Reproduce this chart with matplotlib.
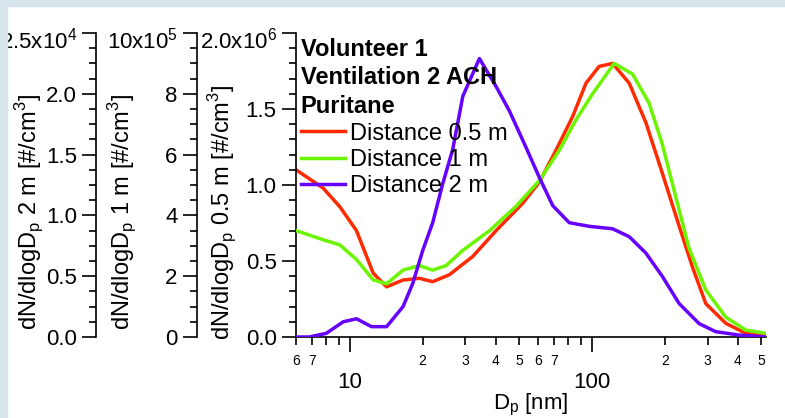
import numpy as np
import matplotlib
matplotlib.use("Agg")
import matplotlib.pyplot as plt
from matplotlib.patches import Rectangle
from matplotlib.transforms import ScaledTranslation
from matplotlib.ticker import MultipleLocator, LogLocator, FuncFormatter

plt.rcParams['font.family'] = ['Liberation Sans', 'DejaVu Sans']
plt.rcParams['mathtext.fontset'] = 'custom'
plt.rcParams['mathtext.rm'] = 'Liberation Sans'

# particle diameter [nm] and number size distributions dN/dlogDp [#/cm3]
d_05 = [6, 7.76, 9.1, 10.66, 12.5, 14.2, 16.6, 19.4, 22.0, 25.8, 32.2, 40.2, 51.8, 60.7,
        71.1, 83.2, 94.5, 107, 121.6, 142.5, 167, 195, 229, 260, 295, 357, 431, 523]
n_05 = [1.10, 0.98, 0.857, 0.70, 0.42, 0.33, 0.375, 0.386, 0.364, 0.41, 0.53, 0.70, 0.88, 1.02,
        1.23, 1.45, 1.67, 1.78, 1.80, 1.67, 1.41, 1.08, 0.73, 0.46, 0.22, 0.09, 0.024, 0.005]  # x1e6

d_1 = [6, 7.76, 9.1, 10.66, 12.5, 14.2, 16.6, 19.4, 22.0, 25.0, 29.3, 37.8, 48.6, 60.7,
       73.4, 86, 100.6, 123.5, 147, 172, 195, 222, 251, 295, 357, 431, 523]
n_1 = [3.5, 3.2, 3.03, 2.55, 1.88, 1.75, 2.2, 2.35, 2.2, 2.35, 2.85, 3.5, 4.3, 5.15,
       6.15, 7.15, 8.0, 9.0, 8.65, 7.7, 6.35, 4.6, 2.95, 1.55, 0.65, 0.23, 0.12]  # x1e5

d_2 = [6, 6.8, 8.0, 9.4, 10.66, 12.3, 14.2, 16.6, 18.2, 20.0, 22.0, 24.2, 26.6, 29.3, 34.3,
       40.2, 45.6, 53.4, 60.7, 68.9, 80.6, 97.6, 121.6, 142.5, 167, 195, 229, 277, 324, 405, 523]
n_2 = [0, 0, 0.03, 0.125, 0.15, 0.085, 0.085, 0.25, 0.44, 0.71, 0.94, 1.26, 1.54, 1.98, 2.29,
       2.06, 1.86, 1.56, 1.31, 1.08, 0.94, 0.91, 0.89, 0.825, 0.69, 0.50, 0.275, 0.11, 0.044, 0.016, 0.0]  # x1e4

fig = plt.figure(figsize=(7.85, 4.18), dpi=100)
fig.patch.set_facecolor('white')
# light frame on the left and top
fig.add_artist(Rectangle((0, 0), 7 / 785, 1, transform=fig.transFigure, color='#d6e5eb', zorder=10))
fig.add_artist(Rectangle((0, 1 - 6 / 418), 1, 6 / 418, transform=fig.transFigure, color='#d6e5eb', zorder=10))

ax = fig.add_axes([296 / 785, 81 / 418, 470 / 785, 304 / 418])
ax1 = ax.twinx()
ax2 = ax.twinx()

lw = 2.5
l05, = ax.plot(np.array(d_05), np.array(n_05) * 1e6, color='#ff2a00', lw=lw, label='Distance 0.5 m')
l1, = ax1.plot(np.array(d_1), np.array(n_1) * 1e5, color='#6cf500', lw=lw, label='Distance 1 m')
l2, = ax2.plot(np.array(d_2), np.array(n_2) * 1e4, color='#6600ff', lw=lw, label='Distance 2 m')

ax.set_xscale('log')
ax.set_xlim(6, 523)
ax.set_ylim(0, 2e6)
ax1.set_ylim(0, 1e6)
ax2.set_ylim(0, 2.5e4)

ax.spines['top'].set_visible(False)
ax.spines['right'].set_visible(False)
for a, off in [(ax1, -0.2106), (ax2, -0.4245)]:
    a.yaxis.tick_left()
    a.yaxis.set_label_position('left')
    a.spines['left'].set_visible(True)
    a.spines['left'].set_position(('axes', off))
    for s in ['right', 'top', 'bottom']:
        a.spines[s].set_visible(False)
for a in [ax, ax1, ax2]:
    a.spines['left'].set_linewidth(1.2)
    a.tick_params(axis='y', which='major', direction='out', length=10, width=1.2, pad=4, labelsize=16)
    a.tick_params(axis='y', which='minor', direction='out', length=5, width=1.2)
ax.spines['bottom'].set_linewidth(1.2)

# y ticks
ax.set_yticks([0, 0.5e6, 1e6, 1.5e6, 2e6], ['0.0', '0.5', '1.0', '1.5', '2.0x10$^\\mathregular{6}$'])
ax.yaxis.set_minor_locator(MultipleLocator(0.1e6))
ax1.set_yticks([0, 2e5, 4e5, 6e5, 8e5, 10e5], ['0', '2', '4', '6', '8', '10x10$^\\mathregular{5}$'])
ax1.yaxis.set_minor_locator(MultipleLocator(0.5e5))
ax2.set_yticks([0, 0.5e4, 1e4, 1.5e4, 2e4, 2.5e4], ['0.0', '0.5', '1.0', '1.5', '2.0', '2.5x10$^\\mathregular{4}$'])
ax2.yaxis.set_minor_locator(MultipleLocator(0.125e4))
# top labels sit a bit below their tick
for a in [ax, ax1, ax2]:
    top = a.get_yticklabels()[-1]
    top.set_transform(top.get_transform() + ScaledTranslation(0, -0.05, fig.dpi_scale_trans))

# x ticks
def minor_label(x, pos):
    d = int(round(x / 10 ** np.floor(np.log10(x) + 1e-9)))
    return str(d) if d in (2, 3, 4, 5, 6, 7) else ''

ax.xaxis.set_major_locator(LogLocator(base=10, subs=(1.0,)))
ax.xaxis.set_major_formatter(FuncFormatter(lambda x, p: '%d' % round(x)))
ax.xaxis.set_minor_locator(LogLocator(base=10, subs=range(2, 10)))
ax.xaxis.set_minor_formatter(FuncFormatter(minor_label))
ax.tick_params(axis='x', which='major', direction='out', length=11, width=1.2, pad=14, labelsize=16)
ax.tick_params(axis='x', which='minor', direction='out', length=6, width=1.2, pad=6, labelsize=10)

# axis labels
ax.set_xlabel('D$_\\mathregular{p}$ [nm]', fontsize=16)
ax.xaxis.set_label_coords(0.5, -0.182)
for a, txt, xc in [(ax, '0.5 m', -0.157), (ax1, '1 m', -0.368), (ax2, '2 m', -0.566)]:
    a.set_ylabel('dN/dlogD$_\\mathregular{p}$ ' + txt + ' [#/cm$^\\mathregular{3}$]', fontsize=17)
    a.yaxis.set_label_coords(xc, 0.41)
    a.yaxis.label.set_verticalalignment('center')

leg = ax2.legend([l05, l1, l2], [l05.get_label(), l1.get_label(), l2.get_label()],
                 title='Volunteer 1\nVentilation 2 ACH\nPuritane', alignment='left',
                 title_fontproperties={'weight': 'bold', 'size': 17}, fontsize=17,
                 loc='upper left', bbox_to_anchor=(0.01, 0.985), frameon=False,
                 borderpad=0, borderaxespad=0, handlelength=1.87, handletextpad=0.21,
                 labelspacing=0.18)
leg.get_title().set_linespacing(1.33)

fig.savefig('out.png', dpi=100)
